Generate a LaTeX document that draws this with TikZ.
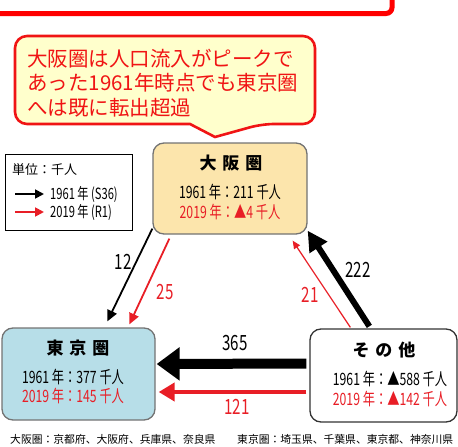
\documentclass[tikz,border=0pt]{standalone}
\usepackage{fontspec}
\setmainfont{Noto Sans CJK JP}
\newfontfamily\narrowjp[FakeStretch=0.72]{Noto Sans CJK JP}
\usetikzlibrary{arrows.meta, calc, positioning}
\definecolor{flowred}{RGB}{232,30,38}
\definecolor{notered}{RGB}{240,20,20}
\definecolor{notefill}{RGB}{255,255,204}
\definecolor{osakafill}{RGB}{252,229,172}
\definecolor{tokyofill}{RGB}{183,222,232}
\definecolor{boxline}{RGB}{115,115,115}
\tikzset{
  area/.style={draw=boxline, line width=1.3pt, rounded corners=11pt, inner sep=0pt},
  areatitle/.style={font=\fontsize{17}{17}\selectfont\bfseries},
  arealine/.style={font=\narrowjp\fontsize{17}{17}\selectfont},
  flowlabel/.style={font=\narrowjp\fontsize{21}{21}\selectfont},
  keytext/.style={font=\narrowjp\fontsize{15.5}{15.5}\selectfont, anchor=west, inner sep=0pt},
  thinflow/.style={-{Triangle[length=11pt,width=10pt]}, line width=1.8pt},
}
\newcommand{\tsp}{\hspace{6pt}}
\begin{document}
\begin{tikzpicture}[x=1pt, y=-1pt]
  \useasboundingbox (0,0) rectangle (458,447);
  \clip (0,0) rectangle (458,447);
  % frame cut off at the top
  \draw[red, line width=5pt, rounded corners=6pt, fill=white] (-20,-30) rectangle (392,13.5);
  % callout
  \draw[notered, line width=2.6pt, fill=notefill, rounded corners=12pt]
    (190,124) -- (15,124) -- (15,36) -- (315,36) -- (315,124) -- (262,124)
    [sharp corners] -- (215,137) -- cycle;
  \node[anchor=west, inner sep=0pt, align=left, text=notered,
        font=\fontsize{20.5}{24.5}\selectfont] (note) at (27,83)
    {大阪圏は人口流入がピークで\\あった1961年時点でも東京圏\\へは既に転出超過};

  % legend
  \node[draw, line width=0.9pt, minimum width=127, minimum height=76, inner sep=0pt] (key) at (68.5,192) {};
  \node[anchor=west, inner sep=0pt, font=\fontsize{13}{13}\selectfont] (unit) at (12,170) {単位：千人};
  \node[keytext] (k1t) at (50,194) {1961 年 (S36)};
  \node[keytext] (k2t) at (50,212) {2019 年 (R1)};
  \coordinate (k1a) at (15,194);
  \coordinate (k2a) at (15,212);
  \draw[-{Triangle[length=9pt,width=9pt]}, line width=1.8pt] (k1a) -- ($(k1t.west)+(-6,0)$);
  \draw[-{Triangle[length=9pt,width=9pt]}, line width=1.8pt, flowred] (k2a) -- ($(k2t.west)+(-6,0)$);

  % areas
  \node[area, fill=osakafill, minimum width=154, minimum height=91] (osaka) at (230,188.5) {};
  \node[area, fill=tokyofill, minimum width=153, minimum height=92] (tokyo) at (78.5,374) {};
  \node[area, draw=black!80, fill=white, minimum width=147, minimum height=93] (other) at (383.5,375.5) {};

  \node[areatitle] (osakaT) at (231,163) {大\tsp 阪\tsp 圏};
  \node[arealine] (osaka1) at (230,192) {1961 年：211 千人};
  \node[arealine, text=flowred] (osaka2) at (230,212) {2019 年：▲4 千人};
  \node[areatitle] (tokyoT) at (78,348) {東\tsp 京\tsp 圏};
  \node[arealine] (tokyo1) at (73,377) {1961 年：377 千人};
  \node[arealine, text=flowred] (tokyo2) at (73,396) {2019 年：145 千人};
  \node[areatitle] (otherT) at (384,350) {そ\tsp の\tsp 他};
  \node[arealine] (other1) at (390,379) {1961 年：▲588 千人};
  \node[arealine, text=flowred] (other2) at (390,399) {2019 年：▲142 千人};

  % flows
  \draw[thinflow] ($(osaka.south west)+(0,-6)$) -- ($(tokyo.north west)+(106,-6)$);
  \draw[thinflow, flowred] ($(osaka.south west)+(17,4)$) -- ($(tokyo.north west)+(128,-3)$);
  \draw[-{Triangle[length=20pt,width=20pt]}, line width=6pt] ($(other.north west)+(60,-2)$) -- ($(osaka.south east)+(0,-4)$);
  \draw[-{Triangle[length=8pt,width=7pt]}, line width=1.2pt, flowred] ($(other.north west)+(41,-1)$) -- ($(osaka.south east)+(-15,6)$);
  \draw[-{Triangle[length=23pt,width=32pt]}, line width=10pt] ($(other.west)+(-3,-12)$) -- ($(tokyo.east)+(1,-10)$);
  \draw[-{Triangle[length=16pt,width=18pt]}, line width=4pt, flowred] ($(other.west)+(-3,16.5)$) -- ($(tokyo.east)+(3,18)$);

  \node[flowlabel] (f12) at (123,262) {12};
  \node[flowlabel, text=flowred] (f25) at (165,292) {25};
  \node[flowlabel] (f222) at (358,270) {222};
  \node[flowlabel, text=flowred] (f21) at (310,295) {21};
  \node[flowlabel] (f365) at (235,343) {365};
  \node[flowlabel, text=flowred] (f121) at (237,407) {121};

  % footnote
  \node[anchor=west, inner sep=0pt, font=\fontsize{10.8}{10.8}\selectfont] (noteO) at (10,439) {大阪圏：京都府、大阪府、兵庫県、奈良県};
  \node[anchor=west, inner sep=0pt, font=\fontsize{10.8}{10.8}\selectfont] (noteT) at (237,439) {東京圏：埼玉県、千葉県、東京都、神奈川県};
\end{tikzpicture}
\end{document}
